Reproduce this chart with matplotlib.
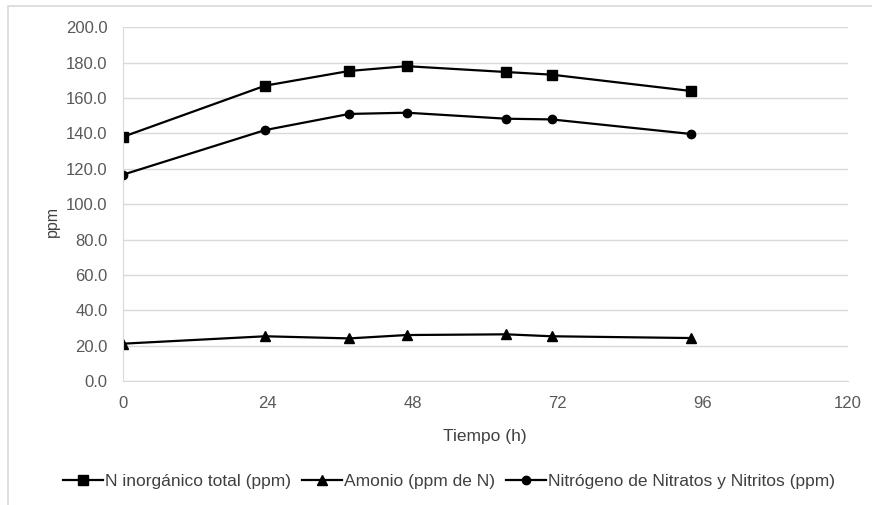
import matplotlib.pyplot as plt
from matplotlib.patches import Rectangle

plt.rcParams['font.family'] = ['Liberation Sans', 'DejaVu Sans']

# sampling times (h)
tiempo = [0, 23.6, 37.5, 47, 63.5, 71, 94]
n_total = [138.0, 167.0, 175.3, 178.0, 174.7, 173.2, 164.0]
amonio = [21.1, 25.3, 24.1, 26.0, 26.4, 25.3, 24.3]
nitratos = [116.6, 141.9, 151.0, 151.7, 148.3, 147.9, 139.7]

labels = ['N inorgánico total (ppm)', 'Amonio (ppm de N)',
          'Nitrógeno de Nitratos y Nitritos (ppm)']
x_ticks = [0, 24, 48, 72, 96, 120]
y_ticks = [0, 20, 40, 60, 80, 100, 120, 140, 160, 180, 200]

fig = plt.figure(figsize=(8.72, 5.05), dpi=100)
# chart area border (only left and top edges fall inside the image)
fig.patches.append(Rectangle((8 / 872, -0.05), 1.0, 1 - 5.5 / 505 + 0.05,
                             transform=fig.transFigure, fill=False,
                             edgecolor='#D9D9D9', linewidth=1.2))
ax = fig.add_axes([0.1407, 0.2455, 0.8314, 0.7005])

ax.plot(tiempo, n_total, color='black', lw=1.6, marker='s', ms=7, label=labels[0])
ax.plot(tiempo, amonio, color='black', lw=1.6, marker='^', ms=7.5, label=labels[1])
ax.plot(tiempo, nitratos, color='black', lw=1.6, marker='o', ms=6, label=labels[2])

ax.set_xlim(0, 120)
ax.set_ylim(0, 200)
ax.set_xticks(x_ticks)
ax.set_yticks(y_ticks)
ax.set_yticklabels([f'{v:.1f}' for v in y_ticks])
ax.tick_params(length=0, labelsize=12, labelcolor='#595959')
ax.tick_params(axis='y', pad=11)
ax.tick_params(axis='x', pad=11)
ax.grid(axis='y', color='#D9D9D9', lw=1)
ax.set_axisbelow(True)
for s in ['top', 'right']:
    ax.spines[s].set_visible(False)
for s in ['left', 'bottom']:
    ax.spines[s].set_color('#D9D9D9')

ax.set_xlabel('Tiempo (h)', fontsize=12.5, color='#404040')
ax.xaxis.set_label_coords(0.5, -0.136)
ax.set_ylabel('ppm', fontsize=11.5, color='#404040', va='center')
ax.yaxis.set_label_coords(-0.0975, 0.45)

fig.legend(loc='center', bbox_to_anchor=(0.515, 0.0475), ncol=3, frameon=False,
           fontsize=12.5, handlelength=2.3, handletextpad=0.15, columnspacing=0.6,
           labelcolor='#404040')

fig.savefig('out.png', dpi=100)
